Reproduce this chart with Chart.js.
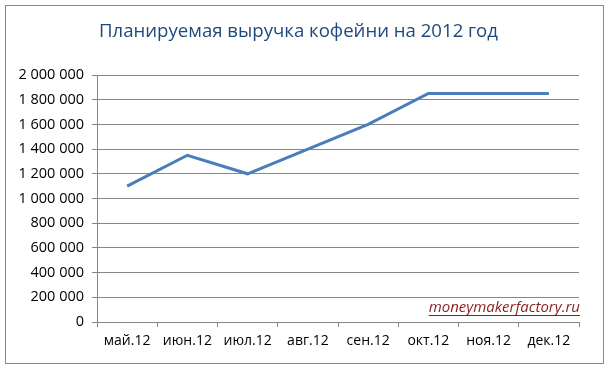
<!DOCTYPE html>
<html><head><meta charset="utf-8">
<script src="https://cdn.jsdelivr.net/npm/chart.js@4/dist/chart.umd.min.js"></script>
<style>html,body{margin:0;padding:0;background:#fff}#wrap{width:609px;height:369px}</style>
</head><body><div id="wrap"><canvas id="c" width="609" height="369"></canvas></div>
<script>
const categories = ["май.12","июн.12","июл.12","авг.12","сен.12","окт.12","ноя.12","дек.12"];
const revenue = [1100000,1350000,1200000,1400000,1600000,1850000,1850000,1850000];
const yTicks = [0,200000,400000,600000,800000,1000000,1200000,1400000,1600000,1800000,2000000];
const titleText = "Планируемая выручка кофейни на 2012 год";
const watermark = "moneymakerfactory.ru";

const fmt = v => String(v).replace(/\B(?=(\d{3})+(?!\d))/g, " ");

const frame = {
  id: 'frame',
  beforeDraw(chart) {
    const ctx = chart.ctx;
    ctx.save();
    ctx.fillStyle = '#fff';
    ctx.fillRect(0,0,chart.width,chart.height);
    ctx.strokeStyle = '#888';
    ctx.lineWidth = 1;
    ctx.strokeRect(5.5,5.5,598,358);
    // title
    ctx.font = '18.6px "Open Sans", sans-serif';
    ctx.fillStyle = '#1F497D';
    ctx.textAlign = 'center';
    ctx.textBaseline = 'alphabetic';
    ctx.fillText(titleText, 298.5, 37);
    ctx.restore();
  },
  afterDraw(chart) {
    const ctx = chart.ctx;
    const a = chart.chartArea;
    ctx.save();
    ctx.font = 'italic 15px "Open Sans", sans-serif';
    ctx.fillStyle = '#8B1E1E';
    ctx.textAlign = 'right';
    ctx.textBaseline = 'alphabetic';
    const x = a.right + 1, y = a.bottom - 10;
    ctx.fillText(watermark, x, y);
    const w = ctx.measureText(watermark).width;
    ctx.strokeStyle = '#8B1E1E';
    ctx.lineWidth = 1;
    ctx.beginPath();
    ctx.moveTo(x - w, y + 3.5);
    ctx.lineTo(x, y + 3.5);
    ctx.stroke();
    ctx.restore();
  }
};

new Chart(document.getElementById('c'), {
  type: 'line',
  data: {
    labels: categories,
    datasets: [{
      data: revenue,
      borderColor: '#4A7EBB',
      borderWidth: 3,
      pointRadius: 0,
      tension: 0,
      fill: false
    }]
  },
  options: {
    responsive: false,
    animation: false,
    layout: { padding: { left: 0, right: 30, top: 75, bottom: 0 } },
    plugins: {
      legend: { display: false },
      tooltip: { enabled: false },
      title: { display: false }
    },
    scales: {
      x: {
        offset: true,
        grid: { offset: true, drawOnChartArea: false, drawTicks: true, tickLength: 5, color: '#868686' },
        border: { display: true, color: '#868686' },
        ticks: { color: '#000', font: { family: '"Open Sans", sans-serif', size: 14 }, padding: 6, maxRotation: 0 },
        afterFit(s) { s.height = 47; }
      },
      y: {
        min: 0, max: 2000000,
        afterBuildTicks(s) { s.ticks = yTicks.map(v => ({ value: v })); },
        grid: { color: '#868686', drawTicks: true, tickLength: 5 },
        border: { display: true, color: '#868686' },
        ticks: { color: '#000', font: { family: '"Open Sans", sans-serif', size: 14.5 }, padding: 8, callback: v => fmt(v) },
        afterFit(s) { s.width = 97; }
      }
    }
  },
  plugins: [frame]
});
</script>
</body></html>
